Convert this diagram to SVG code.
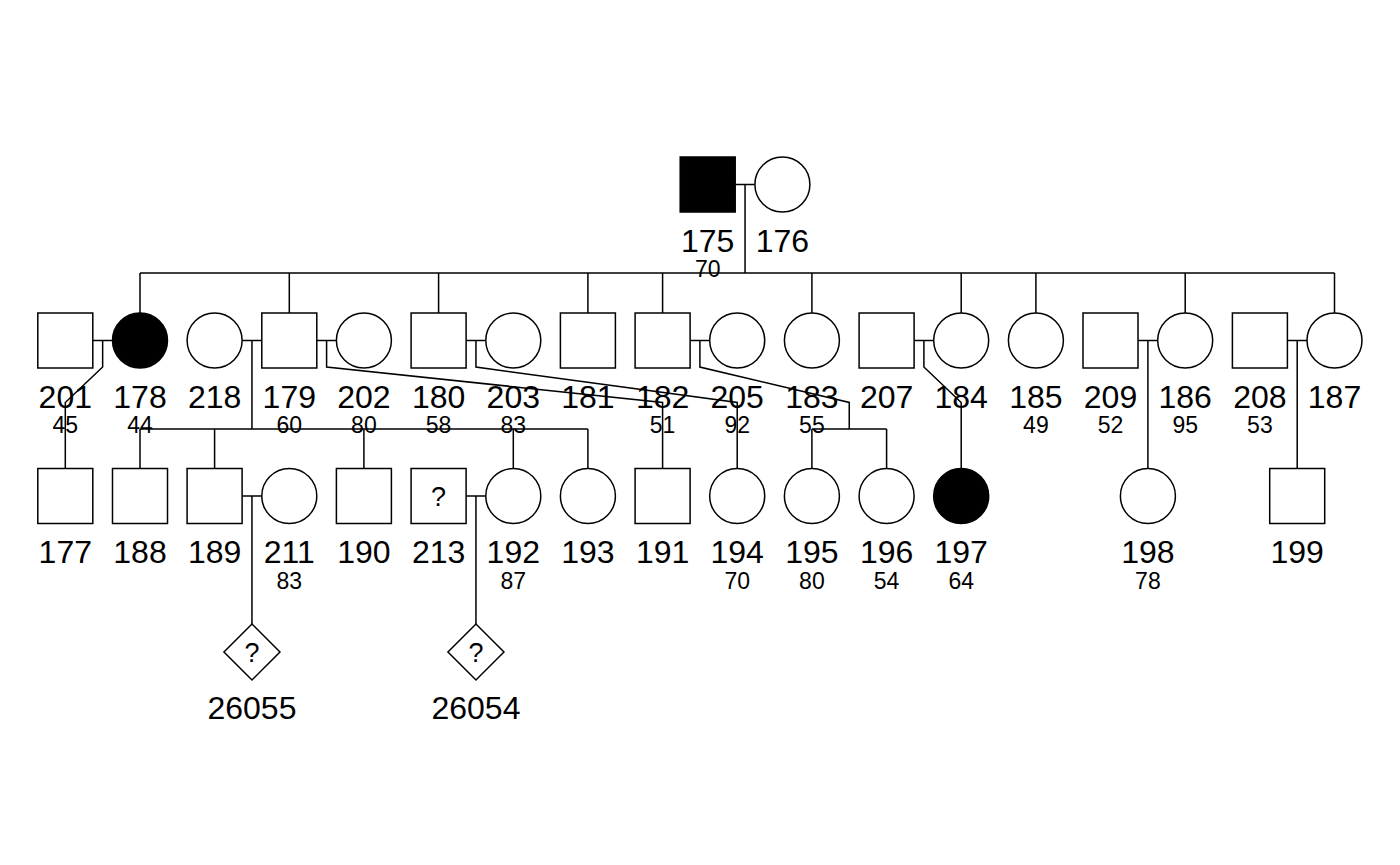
<svg xmlns="http://www.w3.org/2000/svg" width="1400" height="865" viewBox="0 0 1400 865">
<style>
.s{fill:#fff;stroke:#000;stroke-width:1.5}
.a{fill:#000;stroke:#000;stroke-width:1.5}
.ln{fill:none;stroke:#000;stroke-width:1.5}
text{font-family:"Liberation Sans",Arial,sans-serif;fill:#000;text-anchor:middle}
.id{font-size:32px}
.ag{font-size:23px}
.q{font-size:27px}
</style>
<rect width="1400" height="865" fill="#fff"/>
<g id="connectors" class="ln">
<path d="M735.2 184.5H754.9M745.05 184.5V273M140 273H1334.5"/>
<path d="M140 273V313M289.3 273V313M438.6 273V313M587.9 273V313M662.6 273V313M811.9 273V313M961.2 273V313M1035.9 273V313M1185.2 273V313M1334.5 273V313"/>
<path d="M92.8 340.5H112.5M242.1 340.5H261.8M316.8 340.5H336.4M466.1 340.5H485.8M690.1 340.5H709.7M914.1 340.5H933.7M1138 340.5H1157.7M1287.4 340.5H1307"/>
<path d="M102.65 340.5V367.05L65.3 402.45V468.5"/>
<path d="M251.95 340.5V429M140 429H587.9M140 429V468.5M214.6 429V468.5M363.9 429V468.5M513.3 429V468.5M587.9 429V468.5"/>
<path d="M326.6 340.5V367.05L662.6 402.45V468.5"/>
<path d="M475.95 340.5V367.05L737.2 402.45V468.5"/>
<path d="M699.9 340.5V367.05L849.25 402.45V429M811.9 429H886.6M811.9 429V468.5M886.6 429V468.5"/>
<path d="M923.9 340.5V367.05L961.2 402.45V468.5"/>
<path d="M1147.9 340.5V468.5M1297.2 340.5V468.5"/>
<path d="M242.1 496H261.8M466.1 496H485.8M251.95 496V624M475.95 496V624"/>
</g>
<g id="n175"><rect class="a" x="680.2" y="157" width="55" height="55"/><text class="id" x="707.7" y="251.5">175</text><text class="ag" x="707.7" y="277">70</text></g>
<g id="n176"><circle class="s" cx="782.4" cy="184.5" r="27.5"/><text class="id" x="782.4" y="251.5">176</text></g>
<g id="n201"><rect class="s" x="37.8" y="313" width="55" height="55"/><text class="id" x="65.3" y="407.5">201</text><text class="ag" x="65.3" y="433">45</text></g>
<g id="n178"><circle class="a" cx="140" cy="340.5" r="27.5"/><text class="id" x="140" y="407.5">178</text><text class="ag" x="140" y="433">44</text></g>
<g id="n218"><circle class="s" cx="214.6" cy="340.5" r="27.5"/><text class="id" x="214.6" y="407.5">218</text></g>
<g id="n179"><rect class="s" x="261.8" y="313" width="55" height="55"/><text class="id" x="289.3" y="407.5">179</text><text class="ag" x="289.3" y="433">60</text></g>
<g id="n202"><circle class="s" cx="363.9" cy="340.5" r="27.5"/><text class="id" x="363.9" y="407.5">202</text><text class="ag" x="363.9" y="433">80</text></g>
<g id="n180"><rect class="s" x="411.1" y="313" width="55" height="55"/><text class="id" x="438.6" y="407.5">180</text><text class="ag" x="438.6" y="433">58</text></g>
<g id="n203"><circle class="s" cx="513.3" cy="340.5" r="27.5"/><text class="id" x="513.3" y="407.5">203</text><text class="ag" x="513.3" y="433">83</text></g>
<g id="n181"><rect class="s" x="560.4" y="313" width="55" height="55"/><text class="id" x="587.9" y="407.5">181</text></g>
<g id="n182"><rect class="s" x="635.1" y="313" width="55" height="55"/><text class="id" x="662.6" y="407.5">182</text><text class="ag" x="662.6" y="433">51</text></g>
<g id="n205"><circle class="s" cx="737.2" cy="340.5" r="27.5"/><text class="id" x="737.2" y="407.5">205</text><text class="ag" x="737.2" y="433">92</text></g>
<g id="n183"><circle class="s" cx="811.9" cy="340.5" r="27.5"/><text class="id" x="811.9" y="407.5">183</text><text class="ag" x="811.9" y="433">55</text></g>
<g id="n207"><rect class="s" x="859.1" y="313" width="55" height="55"/><text class="id" x="886.6" y="407.5">207</text></g>
<g id="n184"><circle class="s" cx="961.2" cy="340.5" r="27.5"/><text class="id" x="961.2" y="407.5">184</text></g>
<g id="n185"><circle class="s" cx="1035.9" cy="340.5" r="27.5"/><text class="id" x="1035.9" y="407.5">185</text><text class="ag" x="1035.9" y="433">49</text></g>
<g id="n209"><rect class="s" x="1083" y="313" width="55" height="55"/><text class="id" x="1110.5" y="407.5">209</text><text class="ag" x="1110.5" y="433">52</text></g>
<g id="n186"><circle class="s" cx="1185.2" cy="340.5" r="27.5"/><text class="id" x="1185.2" y="407.5">186</text><text class="ag" x="1185.2" y="433">95</text></g>
<g id="n208"><rect class="s" x="1232.4" y="313" width="55" height="55"/><text class="id" x="1259.9" y="407.5">208</text><text class="ag" x="1259.9" y="433">53</text></g>
<g id="n187"><circle class="s" cx="1334.5" cy="340.5" r="27.5"/><text class="id" x="1334.5" y="407.5">187</text></g>
<g id="n177"><rect class="s" x="37.8" y="468.5" width="55" height="55"/><text class="id" x="65.3" y="563">177</text></g>
<g id="n188"><rect class="s" x="112.5" y="468.5" width="55" height="55"/><text class="id" x="140" y="563">188</text></g>
<g id="n189"><rect class="s" x="187.1" y="468.5" width="55" height="55"/><text class="id" x="214.6" y="563">189</text></g>
<g id="n211"><circle class="s" cx="289.3" cy="496" r="27.5"/><text class="id" x="289.3" y="563">211</text><text class="ag" x="289.3" y="589">83</text></g>
<g id="n190"><rect class="s" x="336.4" y="468.5" width="55" height="55"/><text class="id" x="363.9" y="563">190</text></g>
<g id="n213"><rect class="s" x="411.1" y="468.5" width="55" height="55"/><text class="q" x="438.6" y="506">?</text><text class="id" x="438.6" y="563">213</text></g>
<g id="n192"><circle class="s" cx="513.3" cy="496" r="27.5"/><text class="id" x="513.3" y="563">192</text><text class="ag" x="513.3" y="589">87</text></g>
<g id="n193"><circle class="s" cx="587.9" cy="496" r="27.5"/><text class="id" x="587.9" y="563">193</text></g>
<g id="n191"><rect class="s" x="635.1" y="468.5" width="55" height="55"/><text class="id" x="662.6" y="563">191</text></g>
<g id="n194"><circle class="s" cx="737.2" cy="496" r="27.5"/><text class="id" x="737.2" y="563">194</text><text class="ag" x="737.2" y="589">70</text></g>
<g id="n195"><circle class="s" cx="811.9" cy="496" r="27.5"/><text class="id" x="811.9" y="563">195</text><text class="ag" x="811.9" y="589">80</text></g>
<g id="n196"><circle class="s" cx="886.6" cy="496" r="27.5"/><text class="id" x="886.6" y="563">196</text><text class="ag" x="886.6" y="589">54</text></g>
<g id="n197"><circle class="a" cx="961.2" cy="496" r="27.5"/><text class="id" x="961.2" y="563">197</text><text class="ag" x="961.2" y="589">64</text></g>
<g id="n198"><circle class="s" cx="1147.9" cy="496" r="27.5"/><text class="id" x="1147.9" y="563">198</text><text class="ag" x="1147.9" y="589">78</text></g>
<g id="n199"><rect class="s" x="1269.7" y="468.5" width="55" height="55"/><text class="id" x="1297.2" y="563">199</text></g>
<g id="n26055"><polygon class="s" points="251.95,624 279.95,652 251.95,680 223.95,652"/><text class="q" x="251.95" y="662">?</text><text class="id" x="251.95" y="719">26055</text></g>
<g id="n26054"><polygon class="s" points="475.95,624 503.95,652 475.95,680 447.95,652"/><text class="q" x="475.95" y="662">?</text><text class="id" x="475.95" y="719">26054</text></g>
</svg>
